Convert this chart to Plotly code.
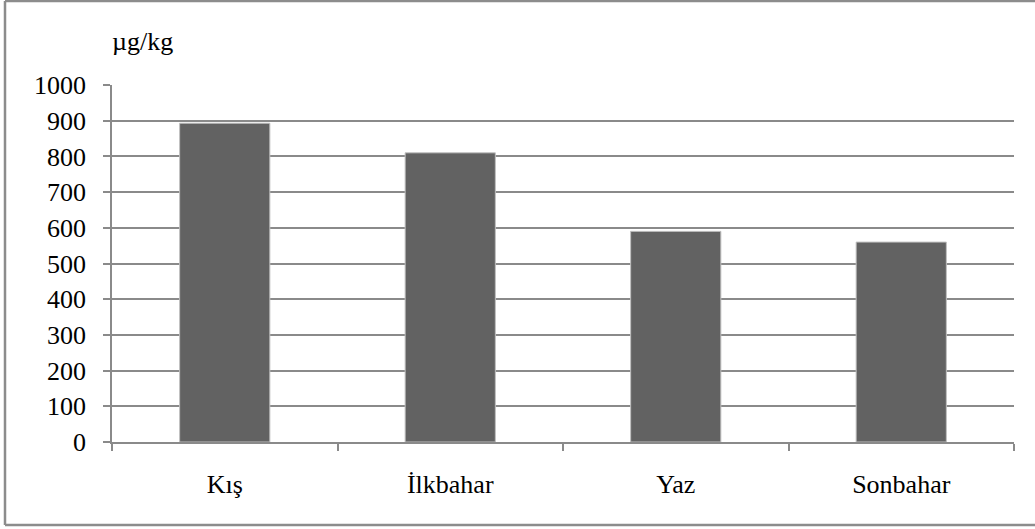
import plotly.graph_objects as go

categories = ["Kış", "İlkbahar", "Yaz", "Sonbahar"]
values = [893, 810, 590, 560]
y_ticks = [0, 100, 200, 300, 400, 500, 600, 700, 800, 900, 1000]
unit_label = "µg/kg"

W, H = 1035, 529
ML, MR, MT, MB = 112, 21, 85, 87
pw = W - ML - MR
ph = H - MT - MB

FONT = "Liberation Serif, Times New Roman, serif"
GRID = "#8a8a8a"
BORDER = "#8c8c8c"

def px_x(v):
    return (v - ML) / pw

def px_y(v):
    return (H - MB - v) / ph

fig = go.Figure(
    go.Bar(
        x=categories,
        y=values,
        marker=dict(color="#626262", line=dict(color="#c0c0c0", width=1)),
        width=0.4,
    )
)

border_lines = [
    (5, 1, 1035, 1),      # top
    (5, 1, 5, 525),       # left
    (5, 525, 1035, 525),  # bottom
]
shapes = [
    dict(
        type="line", xref="paper", yref="paper",
        x0=px_x(a), y0=px_y(b), x1=px_x(c), y1=px_y(d),
        line=dict(color=BORDER, width=2.5), layer="below",
    )
    for a, b, c, d in border_lines
]

fig.update_layout(
    width=W,
    height=H,
    margin=dict(l=ML, r=MR, t=MT, b=MB, pad=0),
    paper_bgcolor="white",
    plot_bgcolor="white",
    font=dict(family=FONT, size=26, color="black"),
    showlegend=False,
    xaxis=dict(
        showgrid=False,
        showline=True,
        linecolor=GRID,
        linewidth=1.5,
        ticks="outside",
        tickson="boundaries",
        ticklen=7,
        tickwidth=1.5,
        tickcolor=GRID,
        ticklabelstandoff=18,
        tickfont=dict(family=FONT, size=26, color="black"),
    ),
    yaxis=dict(
        range=[0, 1000],
        tickvals=y_ticks,
        showgrid=True,
        gridcolor=GRID,
        gridwidth=1.5,
        showline=True,
        linecolor=GRID,
        linewidth=1.5,
        ticks="outside",
        ticklen=7,
        tickwidth=1.5,
        tickcolor=GRID,
        ticklabelstandoff=12,
        zeroline=False,
        tickfont=dict(family=FONT, size=26, color="black"),
    ),
    annotations=[
        dict(
            text=unit_label,
            xref="paper",
            yref="paper",
            x=px_x(110),
            y=px_y(41),
            xanchor="left",
            yanchor="middle",
            showarrow=False,
            font=dict(family=FONT, size=26, color="black"),
        )
    ],
    shapes=shapes,
)

fig.write_html("out.html")
